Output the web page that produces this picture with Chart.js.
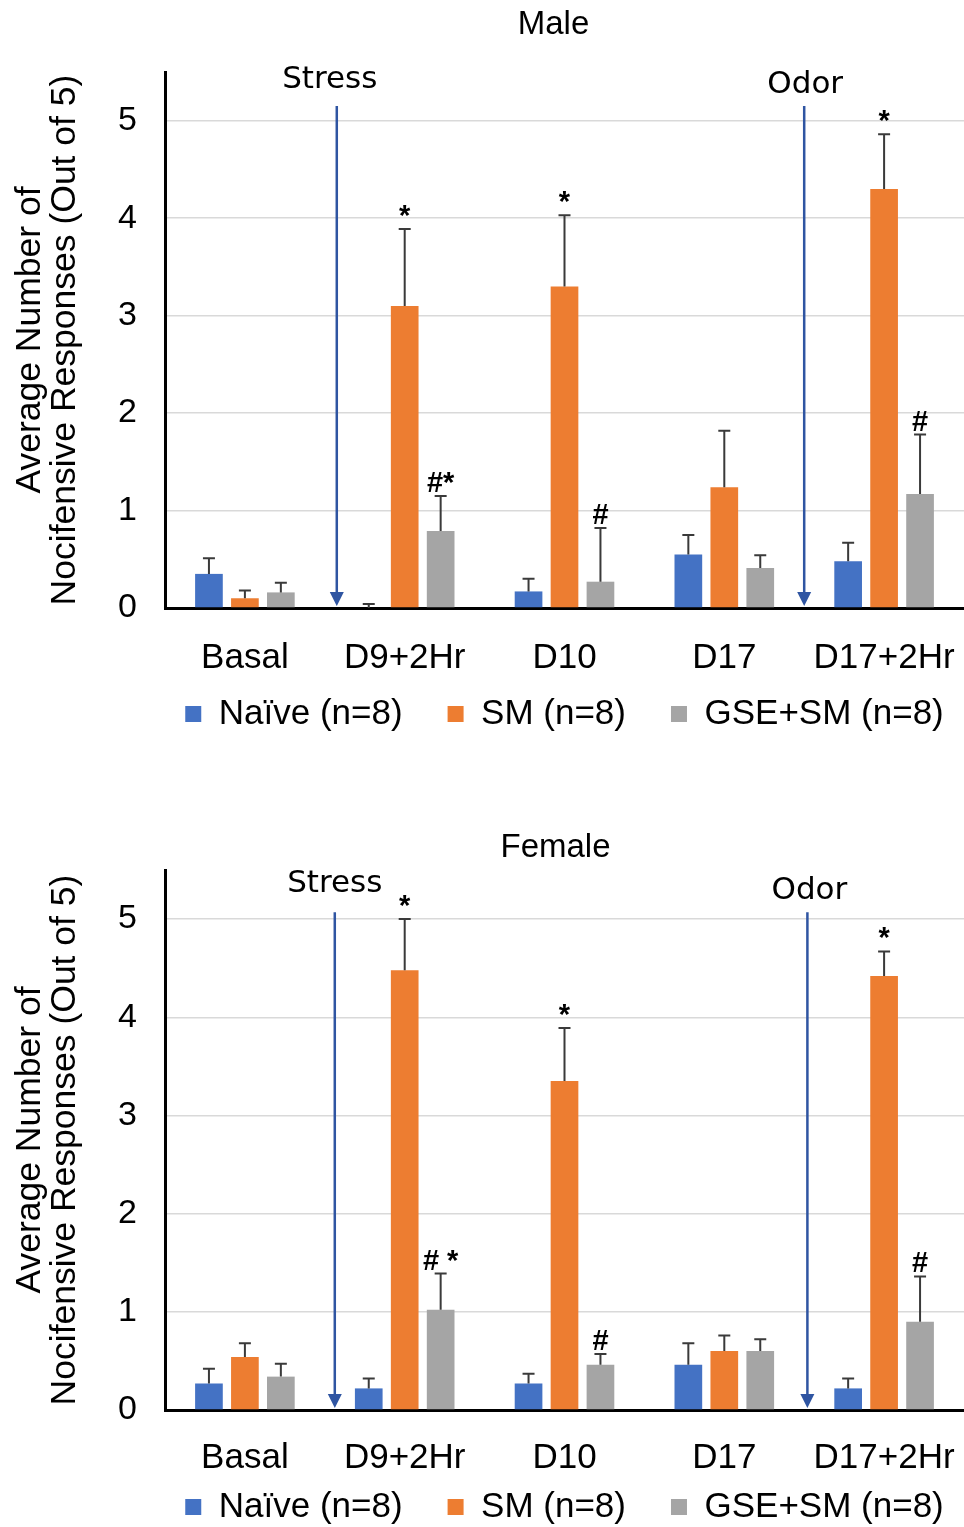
<!DOCTYPE html>
<html>
<head>
<meta charset="utf-8">
<title>Nocifensive responses</title>
<script src="https://cdn.jsdelivr.net/npm/chart.js@4.4.1/dist/chart.umd.min.js"></script>
<style>
  html, body { margin: 0; padding: 0; background: #fff; overflow: hidden; }
  .panel { position: absolute; left: 0; width: 964px; }
  #male-box { top: 0; height: 764px; }
  #female-box { top: 816px; height: 748px; }
</style>
</head>
<body>
<div class="panel" id="male-box"><canvas id="maleChart"></canvas></div>
<div class="panel" id="female-box"><canvas id="femaleChart"></canvas></div>
<script>
// categories and series
var categories = ['Basal', 'D9+2Hr', 'D10', 'D17', 'D17+2Hr'];
var seriesNames = ['Naïve (n=8)', 'SM (n=8)', 'GSE+SM (n=8)'];
var seriesColors = ['#4472C4', '#ED7D31', '#A5A5A5'];
var yTickValues = [0, 1, 2, 3, 4, 5];
var yTitle = ['Average Number of', 'Nocifensive Responses (Out of 5)'];

// Male - means and SEM
var maleNaive = [0.35, 0.00, 0.17, 0.55, 0.48];
var maleSM    = [0.10, 3.10, 3.30, 1.24, 4.30];
var maleGSE   = [0.16, 0.79, 0.27, 0.41, 1.17];
var maleNaiveSem = [0.16, 0.04, 0.13, 0.20, 0.19];
var maleSMSem    = [0.08, 0.79, 0.73, 0.58, 0.56];
var maleGSESem   = [0.10, 0.36, 0.55, 0.13, 0.61];
var maleSMMarks  = ['', '*', '*', '', '*'];
var maleGSEMarks = ['', '#*', '#', '', '#'];

// Female - means and SEM
var femaleNaive = [0.27, 0.22, 0.27, 0.46, 0.22];
var femaleSM    = [0.54, 4.48, 3.35, 0.60, 4.42];
var femaleGSE   = [0.34, 1.02, 0.46, 0.60, 0.90];
var femaleNaiveSem = [0.15, 0.10, 0.10, 0.22, 0.10];
var femaleSMSem    = [0.14, 0.52, 0.54, 0.16, 0.25];
var femaleGSESem   = [0.13, 0.37, 0.11, 0.12, 0.46];
var femaleSMMarks  = ['', '*', '*', '', '*'];
var femaleGSEMarks = ['', '# *', '#', '', '#'];

var noMarks = ['', '', '', '', ''];
var FONT = '"Liberation Sans", Arial, sans-serif';

// plugin: error bars, significance marks, event arrows
function makeOverlay(sems, marks, events, opts) {
    return {
        id: 'overlay',
        afterLayout: function(chart) {
            // legend centred under the plot and pulled up closer to the axis
            var lg = chart.legend, a = chart.chartArea;
            var shift = (a.left + a.right) / 2 - (lg.left + lg.right) / 2;
            lg.left += shift;
            lg.right += shift;
            lg.top -= opts.legendLift;
            lg.bottom -= opts.legendLift;
            var t = chart.titleBlock;
            t.left += opts.titleShift;
            t.right += opts.titleShift;
        },
        afterDatasetsDraw: function(chart) {
            var ctx = chart.ctx;
            var y = chart.scales.y;
            var x = chart.scales.x;
            ctx.save();
            chart.data.datasets.forEach(function(ds, i) {
                var meta = chart.getDatasetMeta(i);
                meta.data.forEach(function(bar, j) {
                    var base = y.getPixelForValue(ds.data[j]);
                    var top = y.getPixelForValue(ds.data[j] + sems[i][j]);
                    ctx.strokeStyle = '#3a3a3a';
                    ctx.lineWidth = 2;
                    ctx.beginPath();
                    ctx.moveTo(bar.x, base);
                    ctx.lineTo(bar.x, top);
                    ctx.moveTo(bar.x - 6, top);
                    ctx.lineTo(bar.x + 6, top);
                    ctx.stroke();
                    if (marks[i][j]) {
                        ctx.fillStyle = '#000';
                        ctx.font = 'bold 29px ' + FONT;
                        ctx.textAlign = 'center';
                        ctx.textBaseline = 'alphabetic';
                        ctx.fillText(marks[i][j], bar.x, top - 4);
                    }
                });
            });
            // Stress / Odor arrows
            events.forEach(function(ev) {
                var px = x.getPixelForValue(ev.at);
                var y0 = y.getPixelForValue(ev.from);
                var y1 = y.getPixelForValue(0) - 2;
                ctx.strokeStyle = '#2F55A2';
                ctx.fillStyle = '#2F55A2';
                ctx.lineWidth = 2.5;
                ctx.beginPath();
                ctx.moveTo(px, y0);
                ctx.lineTo(px, y1 - 12);
                ctx.stroke();
                ctx.beginPath();
                ctx.moveTo(px - 7, y1 - 14);
                ctx.lineTo(px + 7, y1 - 14);
                ctx.lineTo(px, y1);
                ctx.closePath();
                ctx.fill();
                ctx.fillStyle = '#000';
                ctx.font = '31px "DejaVu Sans", sans-serif';
                ctx.textAlign = 'center';
                ctx.textBaseline = 'middle';
                ctx.fillText(ev.label, px + ev.dx, y.getPixelForValue(ev.labelY));
            });
            ctx.restore();
        }
    };
}

function buildChart(canvasId, title, naive, sm, gse, sems, marks, events, opts) {
    var ctx = document.getElementById(canvasId).getContext('2d');
    var values = [naive, sm, gse];
    var data = {
        labels: categories,
        datasets: seriesNames.map(function(name, i) {
            return {
                label: name,
                data: values[i],
                backgroundColor: seriesColors[i],
                borderWidth: 0,
                categoryPercentage: 0.675,
                barPercentage: 0.77
            };
        })
    };

    var options = {
        responsive: true,
        maintainAspectRatio: false,
        animation: false,
        layout: { padding: 0 },
        plugins: {
            title: {
                display: true,
                text: title,
                fullSize: false,
                color: '#000',
                font: { family: FONT, size: 33, weight: 'normal', lineHeight: 1.2 },
                padding: opts.titlePadding
            },
            legend: {
                position: 'bottom',
                labels: {
                    color: '#000',
                    boxWidth: 16,
                    boxHeight: 16,
                    padding: 45,
                    font: { family: FONT, size: 35 }
                }
            },
            tooltip: { enabled: false }
        },
        scales: {
            x: {
                grid: { display: false },
                border: { display: true, color: '#000', width: 3 },
                ticks: {
                    color: '#000',
                    padding: opts.xPadding,
                    maxRotation: 0,
                    font: { family: FONT, size: 35 }
                },
                afterFit: function(scale) {
                    scale.height = opts.xHeight;
                    // plot runs to the right edge; last label may overhang
                    scale.paddingLeft = 0;
                    scale.paddingRight = 0;
                }
            },
            y: {
                min: 0,
                max: 5.5,
                grid: { color: '#d9d9d9', lineWidth: 1.5, drawTicks: false },
                border: { display: true, color: '#000', width: 3 },
                ticks: {
                    stepSize: 1,
                    color: '#000',
                    padding: 28,
                    font: { family: FONT, size: 34 }
                },
                afterBuildTicks: function(scale) {
                    scale.ticks = yTickValues.map(function(v) { return { value: v }; });
                },
                title: {
                    display: true,
                    text: yTitle,
                    color: '#000',
                    font: { family: FONT, size: 35.5, lineHeight: 1.0 },
                    padding: { top: 12, bottom: 0 }
                },
                afterFit: function(scale) { scale.width = 165; }
            }
        }
    };

    return new Chart(ctx, {
        type: 'bar',
        data: data,
        options: options,
        plugins: [makeOverlay(sems, marks, events, opts)]
    });
}

buildChart('maleChart', 'Male', maleNaive, maleSM, maleGSE,
    [maleNaiveSem, maleSMSem, maleGSESem],
    [noMarks, maleSMMarks, maleGSEMarks],
    [{ label: 'Stress', at: 0.575, from: 5.15, labelY: 5.42, dx: -7 },
     { label: 'Odor', at: 3.5, from: 5.15, labelY: 5.37, dx: 1 }],
    { titlePadding: { top: 5, bottom: 27.4 }, xPadding: 21, xHeight: 66,
      legendLift: 22.5, titleShift: -11 });

buildChart('femaleChart', 'Female', femaleNaive, femaleSM, femaleGSE,
    [femaleNaiveSem, femaleSMSem, femaleGSESem],
    [noMarks, femaleSMMarks, femaleGSEMarks],
    [{ label: 'Stress', at: 0.5625, from: 5.07, labelY: 5.36, dx: 0 },
     { label: 'Odor', at: 3.52, from: 5.07, labelY: 5.29, dx: 2 }],
    { titlePadding: { top: 12.2, bottom: 2.2 }, xPadding: 19.5, xHeight: 64,
      legendLift: 29.5, titleShift: -9 });
</script>
</body>
</html>
